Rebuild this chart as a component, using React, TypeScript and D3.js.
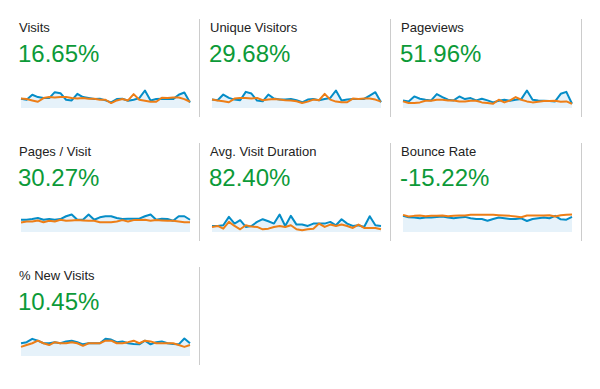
import * as d3 from "d3";

// metric names + % change shown under them
const metricNames = [
  "Visits",
  "Unique Visitors",
  "Pageviews",
  "Pages / Visit",
  "Avg. Visit Duration",
  "Bounce Rate",
  "% New Visits",
];
const changeLabels = ["16.65%", "29.68%", "51.96%", "30.27%", "82.40%", "-15.22%", "10.45%"];

// current period (blue) per metric, one value per day
const visitsCur = [28, 25, 40, 33, 30, 30, 48, 45, 25, 23, 43, 33, 30, 27, 28, 23, 17, 27, 28, 22, 25, 30, 53, 23, 27, 28, 27, 27, 40, 47, 17];
const uniqueCur = [25, 23, 40, 30, 25, 23, 48, 43, 22, 20, 40, 28, 25, 25, 27, 23, 17, 25, 27, 23, 27, 30, 52, 22, 25, 27, 27, 27, 37, 47, 17];
const pageviewsCur = [23, 20, 35, 28, 25, 23, 42, 33, 25, 23, 35, 27, 30, 23, 28, 23, 17, 22, 25, 22, 25, 27, 53, 25, 23, 22, 21, 20, 43, 49, 13];
const pagesVisitCur = [35, 35, 37, 40, 35, 37, 35, 37, 45, 50, 35, 35, 50, 35, 42, 45, 45, 40, 37, 38, 38, 38, 45, 50, 35, 38, 37, 32, 45, 45, 35];
const durationCur = [18, 18, 20, 45, 25, 35, 15, 18, 30, 38, 32, 25, 52, 18, 48, 22, 22, 18, 25, 25, 25, 30, 20, 38, 25, 18, 20, 15, 47, 20, 18];
const bounceCur = [47, 43, 42, 40, 42, 42, 44, 45, 42, 40, 42, 44, 40, 38, 38, 33, 38, 42, 40, 38, 38, 40, 32, 38, 40, 42, 40, 47, 37, 36, 44];
const newVisitsCur = [35, 38, 47, 42, 35, 35, 38, 35, 40, 42, 38, 32, 35, 35, 35, 47, 45, 38, 40, 35, 33, 32, 42, 32, 38, 40, 35, 33, 32, 48, 35];

// previous period (orange)
const visitsPrev = [29, 27, 23, 19, 30, 33, 32, 33, 33, 30, 29, 30, 28, 28, 25, 25, 15, 23, 27, 23, 42, 25, 22, 19, 19, 31, 30, 32, 32, 27, 19];
const uniquePrev = [25, 22, 20, 17, 28, 30, 30, 28, 30, 23, 25, 27, 25, 23, 22, 20, 15, 19, 25, 23, 42, 25, 19, 17, 17, 28, 27, 28, 28, 25, 19];
const pageviewsPrev = [20, 15, 15, 17, 22, 22, 25, 25, 23, 23, 20, 20, 22, 22, 17, 15, 13, 25, 17, 23, 33, 25, 20, 17, 19, 21, 21, 22, 19, 20, 13];
const pagesVisitPrev = [27, 30, 30, 33, 28, 32, 30, 35, 32, 33, 34, 33, 32, 32, 28, 28, 28, 30, 34, 30, 34, 34, 35, 32, 34, 33, 32, 32, 30, 28, 28];
const durationPrev = [15, 18, 10, 30, 18, 8, 20, 16, 15, 8, 10, 15, 18, 15, 20, 8, 5, 8, 10, 25, 15, 22, 18, 22, 18, 12, 22, 12, 12, 12, 8];
const bouncePrev = [50, 45, 47, 48, 46, 47, 47, 48, 46, 47, 48, 48, 50, 50, 50, 50, 50, 49, 48, 47, 45, 43, 48, 48, 48, 48, 49, 45, 49, 50, 51];
const newVisitsPrev = [25, 30, 35, 42, 35, 30, 38, 35, 35, 38, 35, 28, 35, 35, 35, 42, 42, 35, 35, 38, 42, 35, 42, 40, 35, 35, 35, 35, 30, 25, 30];

const currentSeries = [visitsCur, uniqueCur, pageviewsCur, pagesVisitCur, durationCur, bounceCur, newVisitsCur];
const previousSeries = [visitsPrev, uniquePrev, pageviewsPrev, pagesVisitPrev, durationPrev, bouncePrev, newVisitsPrev];

const W = 600;
const H = 389;

const blue = "#058dc7";
const orange = "#ed7e17";
const green = "#0c9a38";

const Sparkline = ({ cur, prev, x0, y0 }) => {
  const n = cur.length;
  const xScale = d3.scaleLinear().domain([0, n - 1]).range([x0 + 2, x0 + 171]);
  const maxV = d3.max([d3.max(cur), d3.max(prev)]);
  const yScale = d3.scaleLinear().domain([0, maxV]).range([y0 + 89, y0 + 71.5]);

  const lineGen = d3
    .line<number>()
    .x((d, i) => xScale(i))
    .y((d) => yScale(d));
  const areaGen = d3
    .area<number>()
    .x((d, i) => xScale(i))
    .y0(yScale(0))
    .y1((d) => yScale(d));

  return (
    <g>
      <path d={areaGen(cur)} fill="#e6f2fa" />
      <path d={lineGen(cur)} fill="none" stroke={blue} strokeWidth={2} strokeLinejoin="round" />
      <path d={lineGen(prev)} fill="none" stroke={orange} strokeWidth={2} strokeLinejoin="round" />
    </g>
  );
};

export default function App() {
  return (
    <svg
      width={W}
      height={H}
      style={{ position: "absolute", left: 0, top: 0 }}
      fontFamily="Arial, 'Liberation Sans', sans-serif"
    >
      <rect width={W} height={H} fill="#fff" />
      {metricNames.map((name, i) => {
        const col = i % 3;
        const row = Math.floor(i / 3);
        const x0 = 19 + 191 * col;
        const y0 = 19 + 124 * row;
        return (
          <g key={name}>
            <line
              x1={x0 + 180.5}
              x2={x0 + 180.5}
              y1={y0}
              y2={y0 + 98}
              stroke="#cccccc"
              strokeWidth={1}
            />
            <text x={x0} y={y0 + 13} fontSize={13} fill="#222">
              {name}
            </text>
            <text x={x0 - 1} y={y0 + 43} fontSize={24} fill={green}>
              {changeLabels[i]}
            </text>
            <Sparkline cur={currentSeries[i]} prev={previousSeries[i]} x0={x0} y0={y0} />
          </g>
        );
      })}
    </svg>
  );
}
